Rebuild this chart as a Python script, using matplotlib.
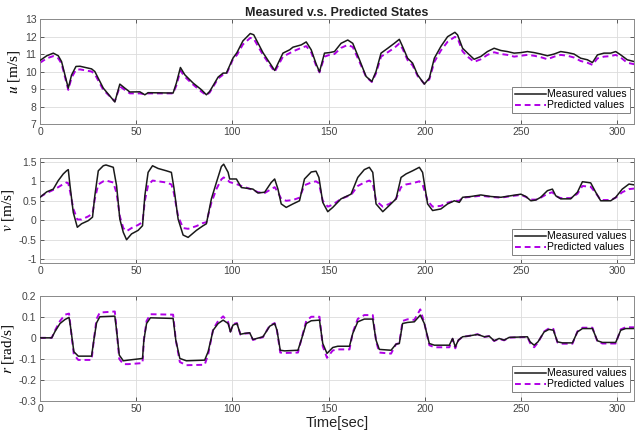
import numpy as np
import matplotlib
matplotlib.use("Agg")
import matplotlib.pyplot as plt

# ---- data (time in sec) ----
t_u = [0, 3.5, 6.9, 9.5, 11.2, 14.7, 16.4, 18.7, 20.8, 26.8, 28.5, 32.9, 38.9, 41.5, 44.1,
       46.7, 51.9, 54.5, 56.2, 69.2, 70.9, 73.0, 75.3, 79.6, 83.9, 86.5, 88.2, 92.6, 95.2,
       96.9, 100.3, 102.4, 105.5, 109.3, 111.1, 115.9, 122.0, 126.3, 129.8, 131.5, 135.8,
       138.4, 141.0, 143.5, 145.3, 147.9, 150.5, 153.1, 156.5, 160.0, 162.6, 166.1, 169.5,
       172.5, 174.7, 177.3, 180.8, 184.2, 186.8, 188.5, 191.1, 193.7, 196.3, 199.8, 202.4,
       205.0, 208.4, 211.9, 215.7, 217.1, 219.7, 222.3, 225.7, 229.2, 232.6, 236.1, 239.6,
       243.0, 246.5, 250.0, 253.4, 256.9, 260.3, 263.8, 267.3, 270.7, 274.2, 277.6, 281.1,
       284.6, 287.2, 289.8, 293.2, 296.7, 299.3, 301.9, 305.3, 308.8, 310]
u_meas = [10.63, 10.9, 11.05, 10.9, 10.57, 9.05, 9.8, 10.29, 10.3, 10.15, 10.0, 9.05, 8.26,
          9.28, 9.05, 8.83, 8.84, 8.67, 8.79, 8.77, 9.34, 10.23, 9.81, 9.34, 8.96, 8.67, 8.86,
          9.68, 9.91, 9.91, 10.76, 11.08, 11.75, 12.17, 12.1, 11.08, 10.06, 11.05, 11.24,
          11.39, 11.52, 11.69, 11.24, 10.45, 9.98, 11.05, 11.08, 11.14, 11.61, 11.8, 11.61,
          10.67, 9.72, 9.43, 10.0, 11.05, 11.33, 11.61, 11.84, 11.43, 10.76, 10.48, 9.81,
          9.28, 9.62, 10.76, 11.43, 11.99, 12.24, 12.09, 11.33, 11.05, 10.7, 10.86, 11.14,
          11.33, 11.2, 11.14, 11.05, 11.08, 11.14, 11.08, 11.0, 10.9, 11.0, 11.14, 11.08,
          11.0, 10.76, 10.67, 10.51, 10.95, 11.05, 11.05, 11.14, 10.95, 10.67, 10.57, 10.55]
u_pred = [10.5, 10.75, 10.88, 10.75, 10.45, 8.95, 9.65, 10.1, 10.12, 10.0, 9.85, 8.95, 8.3,
          9.15, 8.95, 8.75, 8.75, 8.7, 8.75, 8.75, 9.2, 10.05, 9.7, 9.25, 8.85, 8.65, 8.8,
          9.6, 9.82, 9.85, 10.7, 10.95, 11.55, 11.92, 11.88, 10.95, 9.98, 10.85, 11.05,
          11.15, 11.35, 11.45, 11.1, 10.35, 9.95, 10.85, 10.95, 11.0, 11.35, 11.52, 11.4,
          10.55, 9.7, 9.4, 9.9, 10.85, 11.1, 11.35, 11.6, 11.3, 10.65, 10.35, 9.75,
          9.3, 9.55, 10.55, 11.2, 11.7, 11.98, 11.9, 11.15, 10.85, 10.55, 10.7, 10.95,
          11.1, 11.0, 10.95, 10.85, 10.9, 10.95, 10.9, 10.82, 10.7, 10.85, 10.95, 10.9,
          10.8, 10.6, 10.5, 10.38, 10.75, 10.85, 10.88, 10.95, 10.8, 10.5, 10.42, 10.4]

t_v = [0, 3.5, 6.9, 9.5, 12.1, 13.8, 14.7, 15.6, 17.3, 19.4, 21.6, 25.1, 27.3, 28.5, 30.3,
       32.9, 34.3, 38.1, 39.8, 41.5, 43.3, 45.0, 47.6, 51.0, 53.3, 54.5, 56.2, 58.5, 61.4,
       65.7, 68.3, 69.6, 71.8, 74.4, 77.0, 81.3, 84.8, 86.5, 89.1, 91.7, 94.3, 95.5, 97.8,
       98.6, 102.1, 104.7, 110.7, 113.3, 116.8, 120.2, 122.0, 123.7, 125.4, 128.0, 131.5,
       134.9, 137.5, 141.0, 143.5, 145.0, 147.0, 149.6, 152.2, 156.5, 161.7, 165.2, 168.6,
       171.2, 173.0, 174.7, 178.2, 181.6, 185.1, 187.7, 190.3, 193.7, 197.2, 198.9, 201.5,
       204.1, 208.4, 211.9, 215.4, 218.0, 219.7, 224.0, 229.2, 234.4, 239.6, 244.8, 250.0,
       252.6, 255.2, 257.8, 260.3, 263.8, 266.4, 268.1, 270.7, 275.9, 279.4, 282.0, 286.3,
       288.9, 291.5, 296.7, 299.3, 302.7, 306.2, 310]
v_meas = [0.59, 0.73, 0.80, 1.02, 1.19, 1.27, 1.30, 0.89, 0.2, -0.18, -0.09, -0.01, 0.08,
          0.63, 1.27, 1.40, 1.42, 1.36, 0.89, 0.03, -0.31, -0.5, -0.35, -0.26, -0.14, 0.63,
          1.23, 1.40, 1.33, 1.27, 1.23, 0.84, 0.03, -0.38, -0.44, -0.26, -0.14, -0.09, 0.55,
          0.97, 1.38, 1.44, 1.23, 1.06, 1.06, 0.84, 0.80, 0.70, 0.72, 0.97, 1.06, 0.80, 0.42,
          0.33, 0.42, 0.50, 1.06, 1.24, 1.26, 1.10, 0.46, 0.22, 0.33, 0.55, 0.67, 1.10, 1.30,
          1.36, 1.23, 0.42, 0.22, 0.38, 0.55, 1.10, 1.19, 1.27, 1.36, 1.23, 0.42, 0.25, 0.29,
          0.42, 0.50, 0.46, 0.59, 0.61, 0.65, 0.61, 0.59, 0.63, 0.67, 0.61, 0.50, 0.52, 0.59,
          0.76, 0.80, 0.63, 0.55, 0.55, 0.72, 0.99, 0.96, 0.72, 0.50, 0.50, 0.59, 0.80, 0.93,
          0.90]
v_pred = [0.6, 0.7, 0.78, 0.85, 0.93, 0.97, 0.95, 0.75, 0.3, 0.02, 0.02, 0.1, 0.17, 0.55,
          0.92, 1.0, 1.02, 0.97, 0.7, 0.1, -0.2, -0.28, -0.2, -0.12, -0.05, 0.5, 0.9, 1.02,
          1.0, 0.97, 0.92, 0.7, 0.1, -0.2, -0.22, -0.15, -0.07, -0.05, 0.45, 0.8, 1.05, 1.1,
          1.02, 0.98, 0.93, 0.88, 0.78, 0.72, 0.7, 0.8, 0.85, 0.72, 0.55, 0.5, 0.52, 0.58,
          0.9, 0.97, 1.0, 0.95, 0.5, 0.35, 0.4, 0.55, 0.65, 0.88, 0.97, 1.02, 0.95, 0.5, 0.35,
          0.42, 0.55, 0.85, 0.92, 0.95, 1.0, 0.92, 0.5, 0.35, 0.37, 0.45, 0.5, 0.5, 0.58, 0.6,
          0.63, 0.6, 0.58, 0.62, 0.65, 0.6, 0.53, 0.53, 0.58, 0.68, 0.72, 0.62, 0.57, 0.57,
          0.68, 0.88, 0.86, 0.7, 0.52, 0.52, 0.58, 0.72, 0.8, 0.82]

t_r = [0, 6.1, 7.8, 10.4, 13.0, 15.1, 15.9, 17.6, 19.9, 26.8, 28.0, 29.4, 31.1, 38.9, 39.8,
       41.2, 43.3, 45.8, 53.3, 54.0, 55.4, 57.4, 69.2, 70.6, 72.7, 76.1, 85.6, 87.4, 90.0,
       92.6, 95.2, 97.8, 99.0, 100.3, 102.4, 104.2, 106.4, 109.0, 110.7, 115.9, 119.4,
       122.0, 123.2, 124.9, 127.2, 134.1, 135.8, 138.4, 141.0, 145.3, 147.0, 149.2, 152.2,
       154.8, 160.9, 162.6, 165.2, 168.6, 173.0, 174.7, 176.4, 182.5, 185.1, 186.8, 188.5,
       191.1, 194.6, 197.7, 199.8, 202.4, 205.0, 212.8, 214.5, 215.9, 217.5, 219.7, 222.3,
       227.5, 231.0, 233.5, 236.1, 238.7, 241.3, 243.9, 253.4, 254.8, 256.9, 258.9, 262.1,
       264.6, 266.9, 269.0, 271.6, 276.8, 279.4, 282.0, 287.2, 289.8, 292.4, 299.3, 301.9,
       304.5, 310]
r_meas = [0.0, 0.0, 0.03, 0.068, 0.087, 0.097, 0.05, -0.066, -0.087, -0.087, -0.01, 0.071,
          0.1, 0.103, 0.036, -0.082, -0.109, -0.106, -0.098, -0.011, 0.068, 0.095, 0.092,
          -0.011, -0.098, -0.109, -0.106, -0.066, 0.036, 0.068, 0.084, 0.068, 0.028, 0.06,
          0.068, 0.017, 0.021, 0.024, -0.008, 0.005, 0.055, 0.068, 0.036, -0.059, -0.062,
          -0.059, -0.011, 0.068, 0.081, 0.084, -0.027, -0.074, -0.046, -0.04, -0.04, 0.021,
          0.076, 0.089, 0.089, -0.011, -0.055, -0.059, -0.03, -0.027, 0.068, 0.073, 0.076,
          0.108, 0.068, -0.027, -0.035, -0.035, -0.003, -0.043, -0.011, 0.005, 0.008, 0.016,
          0.005, 0.008, -0.014, -0.003, -0.011, 0.002, 0.005, -0.019, -0.035, -0.019, 0.028,
          0.04, 0.036, -0.019, -0.024, -0.024, 0.028, 0.044, 0.044, -0.014, -0.022, -0.022,
          0.036, 0.044, 0.044]
r_pred = [0.0, 0.0, 0.035, 0.08, 0.11, 0.115, 0.05, -0.08, -0.105, -0.105, -0.01, 0.09,
          0.12, 0.125, 0.04, -0.1, -0.125, -0.125, -0.12, -0.01, 0.08, 0.112, 0.11, -0.01,
          -0.115, -0.13, -0.128, -0.08, 0.04, 0.08, 0.102, 0.075, 0.03, 0.065, 0.07, 0.015,
          0.02, 0.022, -0.01, 0.003, 0.058, 0.07, 0.035, -0.07, -0.072, -0.07, -0.01, 0.08,
          0.1, 0.1, -0.04, -0.095, -0.06, -0.055, -0.055, 0.025, 0.09, 0.108, 0.108, -0.015,
          -0.07, -0.075, -0.03, -0.025, 0.08, 0.088, 0.085, 0.135, 0.07, -0.035, -0.045,
          -0.045, -0.005, -0.05, -0.012, 0.005, 0.008, 0.017, 0.004, 0.008, -0.015, -0.005,
          -0.012, 0.001, 0.004, -0.025, -0.045, -0.022, 0.03, 0.045, 0.042, -0.022, -0.028,
          -0.028, 0.03, 0.048, 0.048, -0.018, -0.027, -0.027, 0.04, 0.05, 0.05]

x_ticks = [0, 50, 100, 150, 200, 250, 300]
panels = [
    (t_u, u_meas, u_pred, r'$u$ [m/s]', (7, 13), [7, 8, 9, 10, 11, 12, 13],
     ['7', '8', '9', '10', '11', '12', '13']),
    (t_v, v_meas, v_pred, r'$v$ [m/s]', (-1.09, 1.59), [-1, -0.5, 0, 0.5, 1, 1.5],
     ['-1', '-0.5', '0', '0.5', '1', '1.5']),
    (t_r, r_meas, r_pred, r'$r$ [rad/s]', (-0.3, 0.2), [-0.3, -0.2, -0.1, 0, 0.1, 0.2],
     ['-0.3', '-0.2', '-0.1', '0', '0.1', '0.2']),
]

plt.rcParams['font.family'] = ['Liberation Sans', 'DejaVu Sans']
plt.rcParams['mathtext.fontset'] = 'stix'

fig = plt.figure(figsize=(6.35, 4.33), dpi=100)
boxes = [[0.063, 0.7136, 0.936, 0.2425],
         [0.063, 0.3933, 0.936, 0.2410],
         [0.063, 0.0739, 0.936, 0.2432]]
leg_y = [0.105, 0.074, 0.085]

pred_col = '#B000E6'
for i, (t, ym, yp, lab, lim, yt, ytl) in enumerate(panels):
    ax = fig.add_axes(boxes[i])
    ax.plot(t, ym, color='#1a1a1a', lw=1.1, label='Measured values', zorder=3)
    ax.plot(t, yp, color=pred_col, lw=1.4, ls=(0, (3, 2)), label='Predicted values', zorder=2)
    ax.set_xlim(0, 309)
    ax.set_ylim(*lim)
    ax.set_xticks(x_ticks)
    ax.set_yticks(yt)
    ax.set_yticklabels(ytl)
    ax.grid(True, color='#dcdcdc', lw=0.6)
    ax.set_axisbelow(True)
    ax.tick_params(direction='in', length=3, width=0.6, top=True, right=True,
                   labelsize=7.5, colors='#444444', pad=2.5)
    for s in ax.spines.values():
        s.set_color('#8a8a8a')
        s.set_linewidth(0.7)
    ax.set_ylabel(lab, fontsize=11, family='Liberation Serif', labelpad=2)
    leg = ax.legend(loc='lower right', bbox_to_anchor=(0.992, leg_y[i]), fontsize=7.5,
                    frameon=True, fancybox=False, framealpha=1, edgecolor='#808080',
                    handlelength=3.0, handletextpad=0.1, labelspacing=0.1, borderpad=0.25,
                    borderaxespad=0)
    leg.get_frame().set_linewidth(0.7)
    if i == 0:
        ax.set_title('Measured v.s. Predicted States', fontsize=9, fontweight='bold',
                     color='#222222', pad=2)
    if i == 2:
        ax.set_xlabel('Time[sec]', fontsize=10.5, color='#222222', labelpad=1)

fig.savefig('out.png', dpi=100)
